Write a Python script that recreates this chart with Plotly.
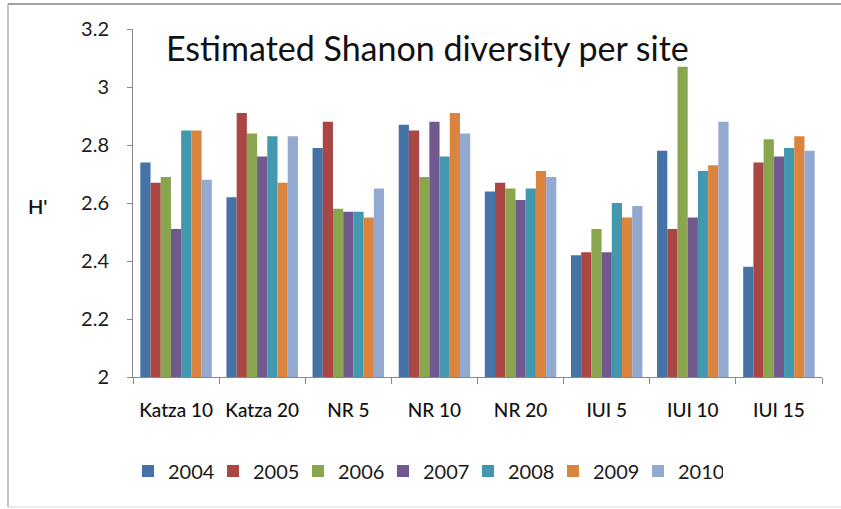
import plotly.graph_objects as go

sites = ["Katza 10", "Katza 20", "NR 5", "NR 10", "NR 20", "IUI 5", "IUI 10", "IUI 15"]
years = ["2004", "2005", "2006", "2007", "2008", "2009", "2010"]

v2004 = [2.74, 2.62, 2.79, 2.87, 2.64, 2.42, 2.78, 2.38]
v2005 = [2.67, 2.91, 2.88, 2.85, 2.67, 2.43, 2.51, 2.74]
v2006 = [2.69, 2.84, 2.58, 2.69, 2.65, 2.51, 3.07, 2.82]
v2007 = [2.51, 2.76, 2.57, 2.88, 2.61, 2.43, 2.55, 2.76]
v2008 = [2.85, 2.83, 2.57, 2.76, 2.65, 2.60, 2.71, 2.79]
v2009 = [2.85, 2.67, 2.55, 2.91, 2.71, 2.55, 2.73, 2.83]
v2010 = [2.68, 2.83, 2.65, 2.84, 2.69, 2.59, 2.88, 2.78]

series = [v2004, v2005, v2006, v2007, v2008, v2009, v2010]
colors = ["#4572A7", "#AA4643", "#89A54E", "#71588F", "#4198AF", "#DB843D", "#93A9CF"]

y_ticks = [2, 2.2, 2.4, 2.6, 2.8, 3, 3.2]
y_tick_text = ["2", "2.2", "2.4", "2.6", "2.8", "3", "3.2"]

FONT = "Lato, 'Open Sans', sans-serif"

fig = go.Figure()
for name, vals, col in zip(years, series, colors):
    fig.add_trace(go.Bar(x=sites, y=vals, name=name, marker=dict(color=col, line=dict(width=0))))

W, H = 841, 509
ml, mr, mt, mb = 133, 19, 29, 132
pw, ph = W - ml - mr, H - mt - mb

fig.update_layout(
    width=W, height=H,
    margin=dict(l=ml, r=mr, t=mt, b=mb, pad=0),
    paper_bgcolor="white", plot_bgcolor="white",
    barmode="group", bargap=0.17, bargroupgap=0,
    font=dict(family=FONT, color="#1a1a1a"),
    showlegend=True,
    legend=dict(orientation="h", x=(140 - 12 - ml) / pw, xanchor="left",
                y=-(471 - (mt + ph)) / ph, yanchor="middle",
                font=dict(size=20, family=FONT, color="#1a1a1a"),
                entrywidth=40, entrywidthmode="pixels",
                traceorder="normal", itemwidth=30, bgcolor="rgba(0,0,0,0)"),
    xaxis=dict(type="category", showline=True, linecolor="#888888", linewidth=1,
               ticks="outside", tickson="boundaries", ticklen=6, tickcolor="#888888",
               tickfont=dict(size=19, family=FONT, color="#111111", weight=500),
               ticklabelstandoff=16, showgrid=False, zeroline=False,
               range=[-0.5, 7.5]),
    yaxis=dict(range=[2, 3.2], tickvals=y_ticks, ticktext=y_tick_text,
               showline=True, linecolor="#888888", linewidth=1,
               ticks="outside", ticklen=5, tickcolor="#888888",
               tickfont=dict(size=20, family=FONT, color="#1a1a1a"),
               ticklabelstandoff=14, showgrid=False, zeroline=False),
    annotations=[
        dict(text="Estimated Shanon diversity per site", xref="paper", yref="paper",
             x=(427 - ml) / pw, y=1 - (47 - mt) / ph, xanchor="center", yanchor="middle",
             showarrow=False, font=dict(size=34, family=FONT, color="#111111")),
        dict(text="H'", xref="paper", yref="paper",
             x=(38 - ml) / pw, y=1 - (206 - mt) / ph, xanchor="center", yanchor="middle",
             showarrow=False, font=dict(size=20, family=FONT, color="#111111", weight=600)),
    ],
    shapes=[
        dict(type="line", xref="paper", yref="paper", x0=(8 - ml) / pw, x1=(W - ml) / pw,
             y0=1 + (mt - 4) / ph, y1=1 + (mt - 4) / ph, line=dict(color="#a0a0a0", width=2)),
        dict(type="line", xref="paper", yref="paper", x0=(8 - ml) / pw, x1=(8 - ml) / pw,
             y0=1 + (mt - 4) / ph, y1=-(507 - mt - ph) / ph, line=dict(color="#b0b0b0", width=1.5)),
        dict(type="line", xref="paper", yref="paper", x0=(8 - ml) / pw, x1=(W - ml) / pw,
             y0=-(507 - mt - ph) / ph, y1=-(507 - mt - ph) / ph, line=dict(color="#d8d8d8", width=1)),
    ],
)

fig.write_html("out.html")
